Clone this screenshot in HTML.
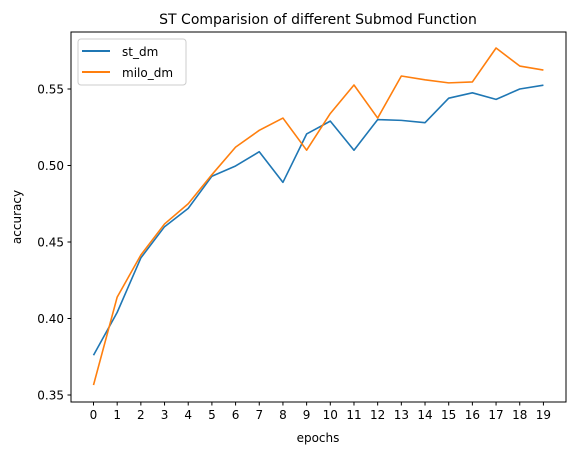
<!DOCTYPE html>
<html><head><meta charset="utf-8"><style>
body{margin:0;background:#fff;font-family:"DejaVu Sans","Liberation Sans",sans-serif}
</style></head><body>
<svg id="chart" width="575" height="455" font-family="DejaVu Sans, Liberation Sans, sans-serif">
<rect width="575" height="455" fill="#fff"/>
<text x="318" y="24" text-anchor="middle" font-size="14" fill="#000">ST Comparision of different Submod Function</text>
<g id="marks"></g>
<g id="axes"></g>
<rect x="71" y="32" width="495" height="370" fill="none" stroke="#000" stroke-width="1"/>
<text x="318" y="442" text-anchor="middle" font-size="12">epochs</text>
<text x="21" y="217" text-anchor="middle" font-size="12" transform="rotate(-90 21 217)">accuracy</text>
<g>
<rect x="78" y="39" width="108" height="46" rx="3" fill="#fff" stroke="#ccc"/>
<line x1="82" y1="51" x2="110" y2="51" stroke="#1f77b4" stroke-width="2"/>
<text x="122" y="56" font-size="12">st_dm</text>
<line x1="82" y1="72" x2="110" y2="72" stroke="#ff7f0e" stroke-width="2"/>
<text x="122" y="77" font-size="12">milo_dm</text>
</g>
</svg>
<script>
const epochs=[0,1,2,3,4,5,6,7,8,9,10,11,12,13,14,15,16,17,18,19];
const stDm=[0.376,0.404,0.4396,0.460,0.472,0.493,0.4997,0.509,0.489,0.5206,0.529,0.510,0.530,0.5295,0.528,0.544,0.5475,0.5432,0.550,0.5525];
const miloDm=[0.3565,0.414,0.4415,0.4618,0.475,0.494,0.512,0.523,0.531,0.510,0.534,0.5526,0.531,0.5585,0.556,0.554,0.5546,0.5768,0.565,0.5624];
const yTicks=[0.35,0.40,0.45,0.50,0.55];
const NS='http://www.w3.org/2000/svg';
function xs(v){return 93.5+v*23.68;}
function ys(v){return 395-(v-0.35)*1530;}
const marks=document.getElementById('marks'),axes=document.getElementById('axes');
function mk(t,a,p){const e=document.createElementNS(NS,t);for(const k in a)e.setAttribute(k,a[k]);p.appendChild(e);return e;}
epochs.forEach(e=>{
 const t=mk('line',{x1:xs(e),x2:xs(e),y1:402,y2:405.5,stroke:'#000'},axes);
 
 
 const l=mk('text',{x:xs(e),y:419,'text-anchor':'middle','font-size':12},axes);
 l.textContent=e;
 
 
});
yTicks.forEach(v=>{
 const t=mk('line',{x1:67.5,x2:71,y1:ys(v),y2:ys(v),stroke:'#000'},axes);
 
 
 const l=mk('text',{x:64,y:ys(v)+4.5,'text-anchor':'end','font-size':12},axes);
 l.textContent=v.toFixed(2);
 
 
});
[[stDm,'#1f77b4','st-dm-line'],[miloDm,'#ff7f0e','milo-dm-line']].forEach(([d,c,n])=>{
 const p=mk('polyline',{points:d.map((v,i)=>xs(epochs[i])+','+ys(v)).join(' '),fill:'none',stroke:c,'stroke-width':1.6,'stroke-linejoin':'round'},marks);
 
 
});
</script>
</body></html>
